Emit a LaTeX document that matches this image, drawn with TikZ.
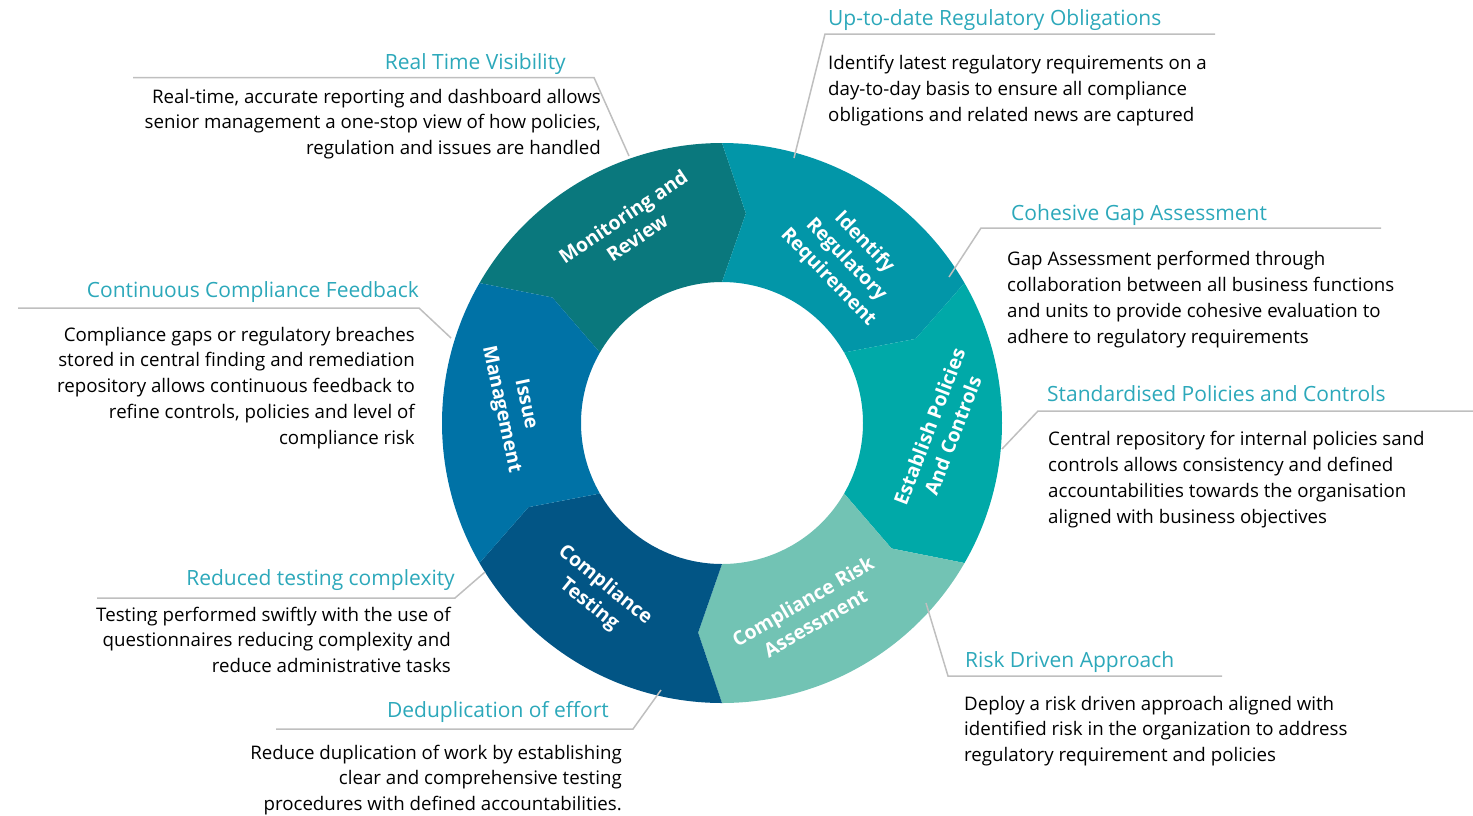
\documentclass[tikz,border=0pt]{standalone}
\usepackage{fontspec}
\setmainfont{Open Sans}
\definecolor{monc}{RGB}{10,120,125}
\definecolor{idc}{RGB}{2,150,168}
\definecolor{estc}{RGB}{0,169,168}
\definecolor{riskc}{RGB}{114,195,180}
\definecolor{testc}{RGB}{2,85,133}
\definecolor{issc}{RGB}{0,114,166}
\definecolor{titlec}{RGB}{44,168,186}
\definecolor{leadc}{RGB}{191,191,191}
\begin{document}
\begin{tikzpicture}[x=1pt,y=-1pt,
  ttl/.style={inner sep=0pt,text=titlec,font=\fontsize{21}{25}\selectfont},
  bodyr/.style={inner sep=0pt,align=right,text=black,font=\fontsize{18.7}{25.7}\selectfont},
  bodyl/.style={inner sep=0pt,align=left,text=black,font=\fontsize{18.7}{25.7}\selectfont},
  seglab/.style={inner sep=0pt,align=center,text=white,font=\bfseries\fontsize{19.5}{25}\selectfont},
  lead/.style={draw=leadc,line width=1.5pt}]
\useasboundingbox (0,0) rectangle (1473,815);
% ring
\begin{scope}[shift={(722,423)},x=1pt,y=1pt]
 \fill[monc] (150:280) arc[start angle=150,end angle=90,radius=280] -- (83.5:211) -- (90:141) arc[start angle=90,end angle=150,radius=141] -- (143.5:211) -- cycle;
 \fill[idc] (90:280) arc[start angle=90,end angle=30,radius=280] -- (23.5:211) -- (30:141) arc[start angle=30,end angle=90,radius=141] -- (83.5:211) -- cycle;
 \fill[estc] (30:280) arc[start angle=30,end angle=-30,radius=280] -- (-36.5:211) -- (-30:141) arc[start angle=-30,end angle=30,radius=141] -- (23.5:211) -- cycle;
 \fill[riskc] (-30:280) arc[start angle=-30,end angle=-90,radius=280] -- (-96.5:211) -- (-90:141) arc[start angle=-90,end angle=-30,radius=141] -- (-36.5:211) -- cycle;
 \fill[testc] (-90:280) arc[start angle=-90,end angle=-150,radius=280] -- (-156.5:211) -- (-150:141) arc[start angle=-150,end angle=-90,radius=141] -- (-96.5:211) -- cycle;
 \fill[issc] (-150:280) arc[start angle=-150,end angle=-210,radius=280] -- (143.5:211) -- (150:141) arc[start angle=150,end angle=210,radius=141] -- (-156.5:211) -- cycle;
\end{scope}
% segment labels
\node[seglab,rotate=34] (smon) at (630,227) {Monitoring and\\Review};
\node[seglab,rotate=-46] (sid) at (846,260) {Identify\\Regulatory\\Requirement};
\node[seglab,rotate=69] (sest) at (941,431) {Establish Policies\\And Controls};
\node[seglab,rotate=30] (srisk) at (809,612) {Compliance Risk\\Assessment};
\node[seglab,rotate=-39] (stest) at (597,595) {Compliance\\Testing};
\node[seglab,rotate=-78] (siss) at (513,407) {Issue\\Management};
% leader coordinates
\coordinate (rt1) at (133,77.5); \coordinate (rt2) at (594,77.5); \coordinate (rt3) at (629,156);
\coordinate (up1) at (1215,34); \coordinate (up2) at (825,34); \coordinate (up3) at (794,158);
\coordinate (co1) at (1381,228); \coordinate (co2) at (981,228); \coordinate (co3) at (949,277);
\coordinate (st1) at (1473,411); \coordinate (st2) at (1038,411); \coordinate (st3) at (1002,449);
\coordinate (rd1) at (926,603); \coordinate (rd2) at (948,676); \coordinate (rd3) at (1222,676);
\coordinate (de1) at (661,690); \coordinate (de2) at (633,729); \coordinate (de3) at (276,729);
\coordinate (re1) at (485,572); \coordinate (re2) at (455,598); \coordinate (re3) at (97,598);
\coordinate (cc1) at (18,308); \coordinate (cc2) at (419,308); \coordinate (cc3) at (451,338);
\draw[lead] (rt1) -- (rt2) -- (rt3);
\draw[lead] (up1) -- (up2) -- (up3);
\draw[lead] (co1) -- (co2) -- (co3);
\draw[lead] (st1) -- (st2) -- (st3);
\draw[lead] (rd1) -- (rd2) -- (rd3);
\draw[lead] (de1) -- (de2) -- (de3);
\draw[lead] (re1) -- (re2) -- (re3);
\draw[lead] (cc1) -- (cc2) -- (cc3);
% titles and texts (body anchors at the baseline of the last line)
\node[ttl,anchor=base east] (trt) at (566,69.5) {Real Time Visibility};
\node[bodyr,anchor=base east] (brt) at (601,154.5) {Real-time, accurate reporting and dashboard allows\\senior management a one-stop view of how policies,\\regulation and issues are handled};
\node[ttl,anchor=base west] (tup) at (828,25) {Up-to-date Regulatory Obligations};
\node[bodyl,anchor=base west] (bup) at (828,121) {Identify latest regulatory requirements on a\\day-to-day basis to ensure all compliance\\obligations and related news are captured};
\node[ttl,anchor=base west] (tco) at (1011,220) {Cohesive Gap Assessment};
\node[bodyl,anchor=base west] (bco) at (1007,343) {Gap Assessment performed through\\collaboration between all business functions\\and units to provide cohesive evaluation to\\adhere to regulatory requirements};
\node[ttl,anchor=base west] (tst) at (1047,401) {Standardised Policies and Controls};
\node[bodyl,anchor=base west] (bst) at (1048,523) {Central repository for internal policies sand\\controls allows consistency and defined\\accountabilities towards the organisation\\aligned with business objectives};
\node[ttl,anchor=base west] (trd) at (965,667) {Risk Driven Approach};
\node[bodyl,anchor=base west] (brd) at (964,761.5) {Deploy a risk driven approach aligned with\\identified risk in the organization to address\\regulatory requirement and policies};
\node[ttl,anchor=base east] (tde) at (609,717) {Deduplication of effort};
\node[bodyr,anchor=base east] (bde) at (622,810.5) {Reduce duplication of work by establishing\\clear and comprehensive testing\\procedures with defined accountabilities.};
\node[ttl,anchor=base east] (tre) at (455,585) {Reduced testing complexity};
\node[bodyr,anchor=base east] (bre) at (451,672.4) {Testing performed swiftly with the use of\\questionnaires reducing complexity and\\reduce administrative tasks};
\node[ttl,anchor=base east] (tcc) at (419,297.5) {Continuous Compliance Feedback};
\node[bodyr,anchor=base east] (bcc) at (415,444) {Compliance gaps or regulatory breaches\\stored in central finding and remediation\\repository allows continuous feedback to\\refine controls, policies and level of\\compliance risk};
\end{tikzpicture}
\end{document}
